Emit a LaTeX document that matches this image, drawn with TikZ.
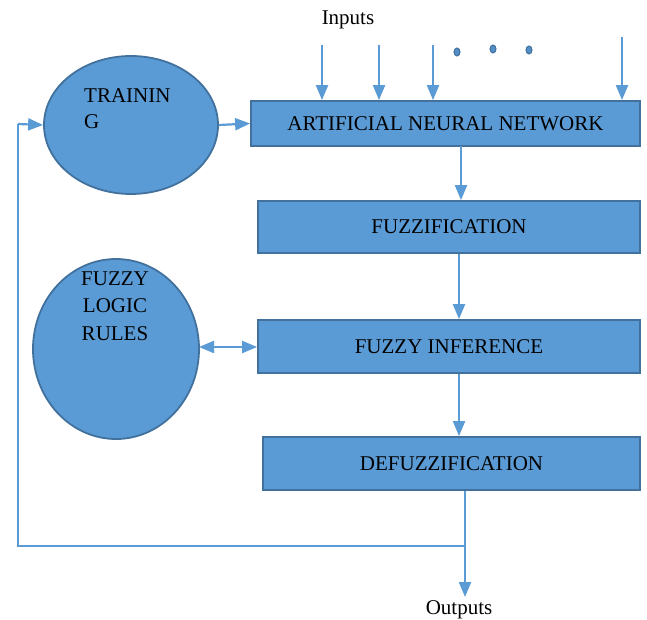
\documentclass[tikz,border=0pt]{standalone}
\usepackage{fontspec}
\setmainfont{Liberation Serif}
\usetikzlibrary{shapes.geometric,arrows.meta,calc}
\definecolor{fillblue}{HTML}{5B9BD5}
\definecolor{edgeblue}{HTML}{41719C}
\tikzset{
  box/.style={draw=edgeblue, line width=1.8pt, fill=fillblue, inner sep=0pt, font=\fontsize{21}{25}\selectfont},
  oval/.style={ellipse, draw=edgeblue, line width=1.8pt, fill=fillblue, inner sep=0pt},
  conn/.style={draw=fillblue, line width=2.2pt, -{Triangle[width=12pt,length=15pt]}},
  plain/.style={draw=fillblue, line width=2.2pt},
  lbl/.style={font=\fontsize{21}{25}\selectfont, inner sep=0pt},
  dot/.style={ellipse, draw=edgeblue, fill=fillblue!70!edgeblue, line width=1pt, minimum width=6pt, minimum height=8pt, inner sep=0pt}
}
\begin{document}
\begin{tikzpicture}[x=1pt,y=-1pt]
\useasboundingbox (0,0) rectangle (647,620);
% nodes
\node[oval, minimum width=174pt, minimum height=138pt] (train) at (131,125) {};
\node[lbl, anchor=north west, align=left, font=\fontsize{21}{26}\selectfont] (traintext) at (84,88) {TRAININ\\G};
\node[oval, minimum width=166pt, minimum height=180pt] (rules) at (116,349) {};
\node[lbl, align=center, font=\fontsize{21}{27.5}\selectfont] (rulestext) at (115,306) {FUZZY\\LOGIC\\RULES};
\node[box, minimum width=389pt, minimum height=45pt] (ann) at (445.5,123.5) {ARTIFICIAL NEURAL NETWORK};
\node[box, minimum width=382pt, minimum height=52pt] (fuzz) at (449,227) {FUZZIFICATION};
\node[box, minimum width=382pt, minimum height=53pt] (inf) at (449,346.5) {FUZZY INFERENCE};
\node[box, minimum width=377pt, minimum height=53pt] (defuzz) at (451.5,463.5) {DEFUZZIFICATION};
\node[lbl] (inputs) at (348,20) {Inputs};
\node[lbl] (outputs) at (459,610) {Outputs};
\node[dot] (d1) at (457,52) {};
\node[dot] (d2) at (493,49) {};
\node[dot] (d3) at (529,50) {};
% coordinates
\coordinate (in1) at (322,45);
\coordinate (in2) at (379,45);
\coordinate (in3) at (433,45);
\coordinate (in4) at (622,37);
\coordinate (a1) at (461,146);
\coordinate (f1) at (459,254);
\coordinate (i1) at (459,374);
\coordinate (o1) at (465,491);
\coordinate (outtip) at (465,597);
\coordinate (fb) at (465,546);
\coordinate (fbl) at (18,546);
\coordinate (fbt) at (18,124);
\coordinate (re) at (199,347);
% connectors
\draw[conn] (in1) -- (in1 |- ann.north);
\draw[conn] (in2) -- (in2 |- ann.north);
\draw[conn] (in3) -- (in3 |- ann.north);
\draw[conn] (in4) -- (in4 |- ann.north);
\draw[conn] (train.east) -- (ann.west);
\draw[conn] (a1) -- (a1 |- fuzz.north);
\draw[conn] (f1) -- (f1 |- inf.north);
\draw[conn] (i1) -- (i1 |- defuzz.north);
\draw[draw=fillblue, line width=2.2pt, {Triangle[width=12pt,length=15pt]}-{Triangle[width=12pt,length=15pt]}] (re) -- (re -| inf.west);
\draw[conn] (o1) -- (outtip);
\draw[plain] (fb) -- (fbl) -- (fbt);
\draw[conn] (fbt) -- (train.west);
\end{tikzpicture}
\end{document}
